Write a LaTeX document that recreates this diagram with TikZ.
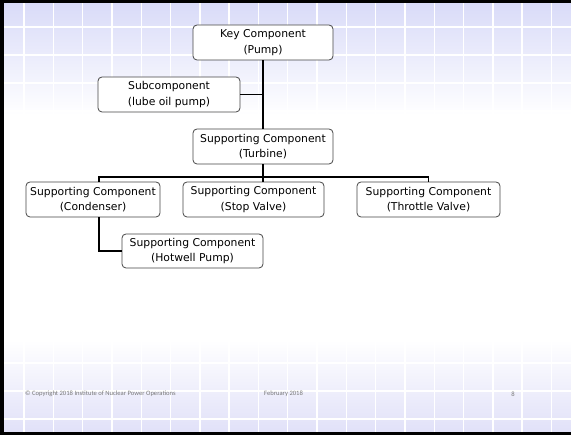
\documentclass[tikz,border=0pt]{standalone}
\usepackage{fontspec}
\setmainfont{DejaVu Sans}
\newfontfamily\footfont{Carlito}
\definecolor{topc}{RGB}{216,218,248}
\definecolor{botc}{RGB}{224,224,248}
\definecolor{boxline}{RGB}{70,70,70}
\definecolor{foot}{RGB}{120,120,120}
\tikzset{
  comp/.style={draw=boxline, line width=0.8pt, fill=white, rounded corners=4pt,
    minimum height=35pt, inner sep=0pt, align=center,
    font=\fontsize{10.8}{15.5}\selectfont},
  conn/.style={draw=black, line width=1.8pt},
  gridline/.style={draw=white, line width=1.4pt},
  foottext/.style={font=\footfont\fontsize{6.6}{8}\selectfont, text=foot, inner sep=0pt}
}
\begin{document}
\begin{tikzpicture}[x=1pt,y=-1pt]
\useasboundingbox (0,0) rectangle (571,435);
% background
\fill[white] (0,0) rectangle (571,435);
\shade[top color=topc, bottom color=white] (0,0) rectangle (571,115);
\shade[top color=white, bottom color=botc] (0,340) rectangle (571,435);
\foreach \i in {0,...,18} {\draw[gridline] ({24+29.3*\i},0) -- ({24+29.3*\i},435);}
\foreach \j in {0,...,14} {\draw[gridline] (0,{27+28*\j}) -- (571,{27+28*\j});}
% frame
\fill[black] (0,0) rectangle (571,3);
\fill[black] (0,0) rectangle (3.5,435);
\fill[black] (0,432.5) rectangle (571,435);
% nodes
\node[comp, minimum width=140pt] (key) at (263,42.5) {Key Component\\(Pump)};
\node[comp, minimum width=142pt] (sub) at (169,94.5) {Subcomponent\\(lube oil pump)};
\node[comp, minimum width=140pt] (turb) at (263,146.5) {Supporting Component\\(Turbine)};
\node[comp, minimum width=134pt] (cond) at (93,199.5) {Supporting Component\\(Condenser)};
\node[comp, minimum width=141pt] (stop) at (253.5,199.5) {Supporting Component\\(Stop Valve)};
\node[comp, minimum width=143pt] (thr) at (428.5,199.5) {Supporting Component\\(Throttle Valve)};
\node[comp, minimum width=141pt, minimum height=34pt] (hot) at (192.5,251) {Supporting Component\\(Hotwell Pump)};
\coordinate (bus) at (263,177);
% connectors
\draw[conn] (key.south) -- (turb.north);
\draw[conn] (sub.east) -- (sub.east -| key.south);
\draw[conn] (turb.south) -- (turb.south |- stop.north);
\draw[conn] ([xshift=6pt]cond.north) |- (bus) -| (thr.north);
\draw[conn] ([xshift=6pt]cond.south) |- (hot.west);
% footer
\node[foottext, anchor=west] (copy) at (25,394) {© Copyright 2018 Institute of Nuclear Power Operations};
\node[foottext] (date) at (283.5,394) {February 2018};
\node[foottext] (page) at (513,394) {8};
\end{tikzpicture}
\end{document}
